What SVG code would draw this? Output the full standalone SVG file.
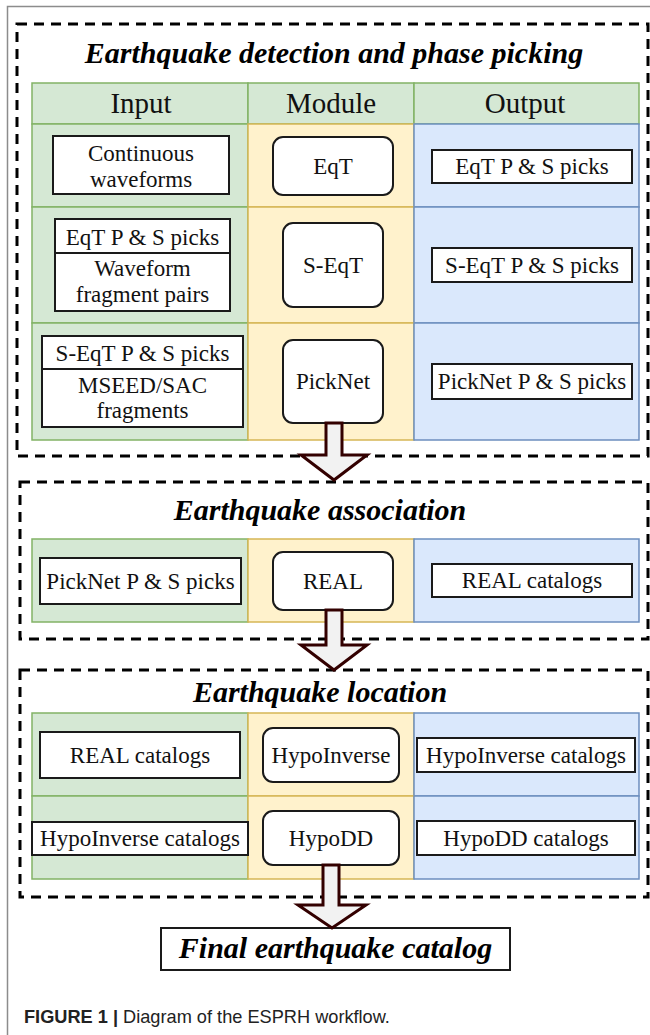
<svg xmlns="http://www.w3.org/2000/svg" width="650" height="1035" viewBox="0 0 650 1035">
<style>
.frame{fill:none;stroke:#8c8c8c;stroke-width:1.5}
.dash{fill:none;stroke:#000;stroke-width:3;stroke-dasharray:10 7}
.g{fill:#d5e8d4;stroke:#82b366;stroke-width:1.5}
.y{fill:#fff2cc;stroke:#d6b656;stroke-width:1.5}
.b{fill:#dae8fc;stroke:#6c8ebf;stroke-width:1.5}
.box{fill:#fff;stroke:#1a1a1a;stroke-width:2}
.ln{stroke:#1a1a1a;stroke-width:2}
.title{font-family:"Liberation Serif","Times New Roman",serif;font-weight:bold;font-style:italic;font-size:30px;fill:#000;text-anchor:middle}
.hd{font-family:"Liberation Serif","Times New Roman",serif;font-size:29px;fill:#111;text-anchor:middle}
.t{font-family:"Liberation Serif","Times New Roman",serif;font-size:23px;fill:#111;text-anchor:middle}
.arrow{fill:#f2f2f2;stroke:#330000;stroke-width:3;stroke-linejoin:miter}
.cap{font-family:"Liberation Sans",Arial,sans-serif;font-size:18.2px;fill:#222}
</style>
<!-- page frame -->
<path class="frame" d="M7.5,1035 V6.5 H650"/>

<!-- Section 1 -->
<g id="section1">
<rect class="dash" x="17" y="24" width="631" height="432"/>
<text class="title" x="334" y="63">Earthquake detection and phase picking</text>
<rect class="g" x="32" y="83" width="216" height="41"/>
<rect class="g" x="248" y="83" width="166" height="41"/>
<rect class="g" x="414" y="83" width="225" height="41"/>
<text class="hd" x="141" y="113">Input</text>
<text class="hd" x="331" y="113">Module</text>
<text class="hd" x="525" y="113">Output</text>
<rect class="g" x="32" y="124" width="216" height="83"/>
<rect class="y" x="248" y="124" width="166" height="83"/>
<rect class="b" x="414" y="124" width="225" height="83"/>
<rect class="g" x="32" y="207" width="216" height="116"/>
<rect class="y" x="248" y="207" width="166" height="116"/>
<rect class="b" x="414" y="207" width="225" height="116"/>
<rect class="g" x="32" y="323" width="216" height="117"/>
<rect class="y" x="248" y="323" width="166" height="117"/>
<rect class="b" x="414" y="323" width="225" height="117"/>
</g>

<g id="in-continuous">
<rect class="box" x="53" y="136" width="176" height="58"/>
<text class="t" x="141" y="161">Continuous</text>
<text class="t" x="141" y="187">waveforms</text>
</g>
<g id="mod-eqt">
<rect class="box" x="273" y="137" width="120" height="58" rx="10"/>
<text class="t" x="333" y="174">EqT</text>
</g>
<g id="out-eqt">
<rect class="box" x="432" y="150" width="200" height="33"/>
<text class="t" x="532" y="174">EqT P &amp; S picks</text>
</g>

<g id="in-seqt">
<rect class="box" x="55" y="219" width="175" height="92"/>
<line class="ln" x1="55" y1="253" x2="230" y2="253"/>
<text class="t" x="142.5" y="245">EqT P &amp; S picks</text>
<text class="t" x="142.5" y="276">Waveform</text>
<text class="t" x="142.5" y="302">fragment pairs</text>
</g>
<g id="mod-seqt">
<rect class="box" x="283" y="223" width="100" height="84" rx="10"/>
<text class="t" x="333" y="273">S-EqT</text>
</g>
<g id="out-seqt">
<rect class="box" x="432" y="248" width="200" height="34"/>
<text class="t" x="532" y="273">S-EqT P &amp; S picks</text>
</g>

<g id="in-picknet">
<rect class="box" x="42" y="336" width="201" height="91"/>
<line class="ln" x1="42" y1="369" x2="243" y2="369"/>
<text class="t" x="142.5" y="361">S-EqT P &amp; S picks</text>
<text class="t" x="142.5" y="393">MSEED/SAC</text>
<text class="t" x="142.5" y="418">fragments</text>
</g>
<g id="mod-picknet">
<rect class="box" x="283" y="340" width="100" height="83" rx="10"/>
<text class="t" x="333" y="389">PickNet</text>
</g>
<g id="out-picknet">
<rect class="box" x="432" y="364" width="200" height="35"/>
<text class="t" x="532" y="389">PickNet P &amp; S picks</text>
</g>

<!-- Section 2 -->
<g id="section2">
<rect class="dash" x="20" y="482" width="628" height="157"/>
<text class="title" x="320" y="520">Earthquake association</text>
<rect class="g" x="32" y="539" width="216" height="83"/>
<rect class="y" x="248" y="539" width="166" height="83"/>
<rect class="b" x="414" y="539" width="225" height="83"/>
</g>
<g id="in-real">
<rect class="box" x="40" y="558" width="201" height="46"/>
<text class="t" x="140.5" y="589">PickNet P &amp; S picks</text>
</g>
<g id="mod-real">
<rect class="box" x="273" y="552" width="120" height="58" rx="10"/>
<text class="t" x="333" y="589">REAL</text>
</g>
<g id="out-real">
<rect class="box" x="432" y="564" width="200" height="33"/>
<text class="t" x="532" y="588">REAL catalogs</text>
</g>

<!-- Section 3 -->
<g id="section3">
<rect class="dash" x="20" y="670" width="628" height="227"/>
<text class="title" x="320" y="702">Earthquake location</text>
<rect class="g" x="32" y="713" width="216" height="83"/>
<rect class="y" x="248" y="713" width="166" height="83"/>
<rect class="b" x="414" y="713" width="225" height="83"/>
<rect class="g" x="32" y="796" width="216" height="83"/>
<rect class="y" x="248" y="796" width="166" height="83"/>
<rect class="b" x="414" y="796" width="225" height="83"/>
</g>
<g id="in-hypoinv">
<rect class="box" x="40" y="732" width="200" height="46"/>
<text class="t" x="140" y="763">REAL catalogs</text>
</g>
<g id="mod-hypoinv">
<rect class="box" x="263" y="728" width="136" height="54" rx="10"/>
<text class="t" x="331" y="763">HypoInverse</text>
</g>
<g id="out-hypoinv">
<rect class="box" x="417" y="738" width="218" height="34"/>
<text class="t" x="526" y="763">HypoInverse catalogs</text>
</g>
<g id="in-hypodd">
<rect class="box" x="32" y="822" width="216" height="33"/>
<text class="t" x="140" y="846">HypoInverse catalogs</text>
</g>
<g id="mod-hypodd">
<rect class="box" x="263" y="811" width="136" height="54" rx="10"/>
<text class="t" x="331" y="846">HypoDD</text>
</g>
<g id="out-hypodd">
<rect class="box" x="417" y="821" width="218" height="34"/>
<text class="t" x="526" y="846">HypoDD catalogs</text>
</g>

<!-- Final -->
<g id="final">
<rect class="box" x="161" y="928" width="349" height="42"/>
<text class="title" x="335.5" y="958">Final earthquake catalog</text>
</g>

<!-- connectors -->
<g id="connectors">
<path class="arrow" d="M326,423 H342 V455 H367 L334,480 L301,455 H326 Z"/>
<path class="arrow" d="M326,610 H342 V645 H367 L334,670 L301,645 H326 Z"/>
<path class="arrow" d="M323,865 H339 V905 H366 L332,928 L298,905 H323 Z"/>
</g>

<!-- caption -->
<text class="cap" x="24" y="1023"><tspan font-weight="bold">FIGURE 1 | </tspan>Diagram of the ESPRH workflow.</text>
</svg>
